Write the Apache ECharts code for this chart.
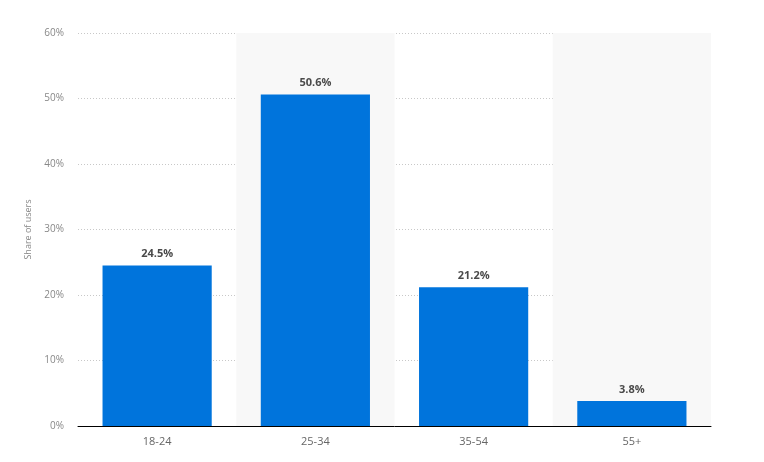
<!DOCTYPE html>
<html><head><meta charset="utf-8">
<script src="https://cdn.jsdelivr.net/npm/echarts@6/dist/echarts.min.js"></script>
<style>html,body{margin:0;padding:0;background:#fff}#c{width:764px;height:462px}</style>
</head><body><div id="c"></div>
<script>
const categories = ['18-24', '25-34', '35-54', '55+'];
const shareValues = [24.5, 50.6, 21.2, 3.8];
const yTicks = [0, 10, 20, 30, 40, 50, 60];

const chart = echarts.init(document.getElementById('c'));
chart.setOption({
  animation: false,
  grid: { left: 78, right: 53, top: 33, bottom: 36 },
  xAxis: {
    type: 'category',
    data: categories,
    axisLine: { lineStyle: { color: '#000', width: 1 } },
    axisTick: { show: false },
    axisLabel: { color: '#666', fontSize: 11, fontFamily: 'Open Sans', margin: 10 },
    splitArea: { show: true, areaStyle: { color: ['rgba(255,255,255,0)', '#f8f8f8'] } }
  },
  yAxis: {
    type: 'value',
    min: yTicks[0], max: yTicks[yTicks.length - 1], interval: 10,
    name: 'Share of users',
    nameLocation: 'middle',
    nameGap: 40,
    nameTextStyle: { color: '#888', fontSize: 9, fontFamily: 'Open Sans' },
    axisLine: { show: false },
    axisTick: { show: false },
    axisLabel: { color: '#888', fontSize: 10, fontFamily: 'Open Sans', margin: 14, formatter: v => v + '%' },
    splitLine: { lineStyle: { color: '#c8c8c8', type: [1, 2], width: 1 } }
  },
  series: [{
    type: 'bar',
    data: shareValues,
    barWidth: '69%',
    itemStyle: { color: '#0074dc' },
    label: {
      show: true, position: 'top', distance: 6,
      color: '#4a4a4a', fontSize: 11, fontWeight: 'bold', fontFamily: 'Open Sans',
      formatter: p => p.value.toFixed(1) + '%'
    }
  }]
});
</script></body></html>
